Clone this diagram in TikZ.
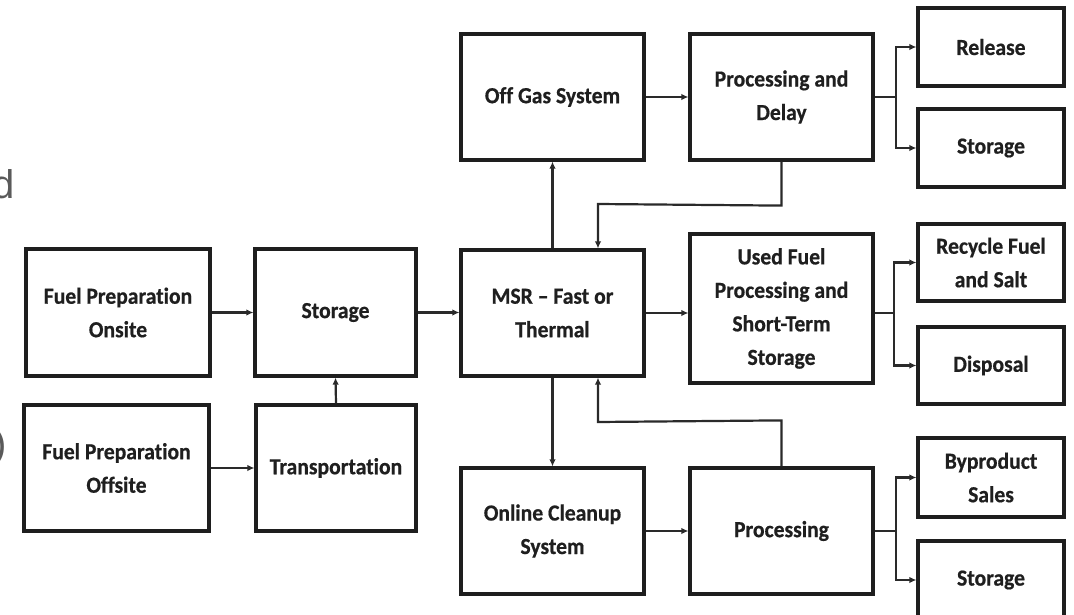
\documentclass[tikz,border=0pt]{standalone}
\usepackage{fontspec}
\setmainfont{Carlito}
\newfontfamily\blkfont[FakeStretch=0.94,FakeBold=0.6,Ligatures={TeX,NoCommon}]{Carlito Bold}
\newfontfamily\fragfont{Liberation Sans}
\usetikzlibrary{arrows.meta,calc}
\definecolor{boxline}{HTML}{1E1E1E}
\definecolor{conline}{HTML}{2A2A2A}
\definecolor{fragcol}{HTML}{5A5A5A}
\begin{document}
\begin{tikzpicture}[x=1pt,y=-1pt,
  blk/.style={draw=boxline,line width=3.2pt,rectangle,align=center,inner sep=2pt,
    font=\blkfont\fontsize{23}{33.5}\selectfont,text=black!88},
  conn/.style={draw=conline,line width=2.2pt},
  arr/.style={conn,-{Latex[length=7pt,width=6.5pt]}},
  frag/.style={inner sep=0pt,text=fragcol,font=\fragfont\fontsize{40}{40}\selectfont}
]
\useasboundingbox (0,0) rectangle (1074,615);
% fragments at left edge
\node[frag,anchor=base east] (fragd) at (14.6,198) {d};
\node[frag,anchor=base east] (fragp) at (6.7,457) {)};
% left column
\node[blk,minimum width=184pt,minimum height=127pt] (fpon) at (118,312.5) {Fuel Preparation\\Onsite};
\node[blk,minimum width=185pt,minimum height=126pt] (fpoff) at (116.5,468) {Fuel Preparation\\Offsite};
\node[blk,minimum width=161pt,minimum height=127pt] (stor1) at (335.5,312.5) {Storage};
\node[blk,minimum width=160pt,minimum height=126pt] (trans) at (336,468) {Transportation};
% middle
\node[blk,minimum width=183pt,minimum height=126pt] (offgas) at (552.5,97) {Off Gas System};
\node[blk,minimum width=183pt,minimum height=126pt] (msr) at (552.5,313) {MSR – Fast or\\Thermal};
\node[blk,minimum width=183pt,minimum height=126pt] (online) at (552.5,531) {Online Cleanup\\System};
\node[blk,minimum width=183pt,minimum height=126pt] (pdelay) at (781.5,97) {Processing and\\Delay};
\node[blk,minimum width=183pt,minimum height=149pt] (used) at (781.5,308.5) {Used Fuel\\Processing and\\Short-Term\\Storage};
\node[blk,minimum width=183pt,minimum height=126pt] (proc) at (781.5,531) {Processing};
% right column
\node[blk,minimum width=146pt,minimum height=78pt] (release) at (991,47) {Release};
\node[blk,minimum width=146pt,minimum height=78pt] (stor2) at (991,148) {Storage};
\node[blk,minimum width=146pt,minimum height=77pt] (recycle) at (991,262.5) {Recycle Fuel\\and Salt};
\node[blk,minimum width=146pt,minimum height=77pt] (disposal) at (991,365.5) {Disposal};
\node[blk,minimum width=146pt,minimum height=79pt] (byprod) at (991,477.5) {Byproduct\\Sales};
\node[blk,minimum width=146pt,minimum height=78pt] (stor3) at (991,580) {Storage};
% connectors
\draw[arr] (fpon.east) -- (stor1.west);
\draw[arr] (stor1.east) -- (stor1.east -| msr.west);
\draw[arr] (fpoff.east) -- (trans.west);
\draw[arr] (trans.north) -- (stor1.south);
\draw[arr] (msr.east) -- (msr.east -| used.west);
\draw[arr] (offgas.east) -- (pdelay.west);
\draw[arr] (msr.north) -- (offgas.south);
\draw[arr] (msr.south) -- (online.north);
\draw[arr] (online.east) -- (proc.west);
\coordinate (fbA) at ($(pdelay.south)+(0,44)$);
\coordinate (fbB) at (598,204);
\draw[arr] (pdelay.south) -- (fbA) -- (fbB) -- (fbB |- msr.north);
\coordinate (fcA) at ($(proc.north)+(0,-46)$);
\coordinate (fcB) at (598,422);
\draw[arr] (proc.north) -- (fcA) -- (fcB) -- (fcB |- msr.south);
% branches
\coordinate (b1) at ($(pdelay.east)+(21,0)$);
\draw[conn] (pdelay.east) -- (b1);
\draw[arr] (b1) |- (release.west);
\draw[arr] (b1) |- (stor2.west);
\coordinate (b2) at (894,313);
\draw[conn] (used.east |- b2) -- (b2);
\draw[arr] (b2) |- (recycle.west);
\draw[arr] (b2) |- (disposal.west);
\coordinate (b3) at ($(proc.east)+(21,0)$);
\draw[conn] (proc.east) -- (b3);
\draw[arr] (b3) |- (byprod.west);
\draw[arr] (b3) |- (stor3.west);
\end{tikzpicture}
\end{document}
